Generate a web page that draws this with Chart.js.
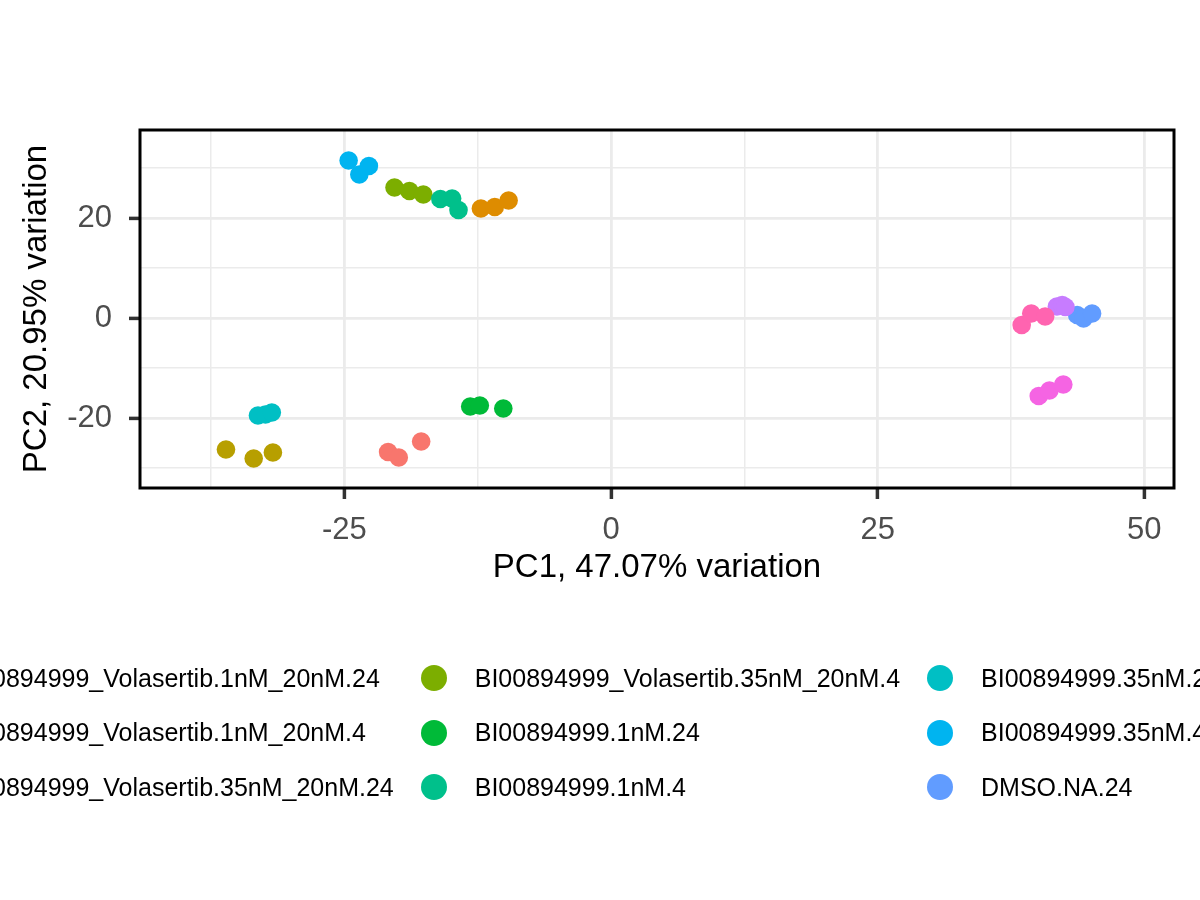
<!DOCTYPE html>
<html lang="en">

<head>
    <meta charset="utf-8">
    <title>PCA biplot</title>
    <script src="https://cdn.jsdelivr.net/npm/chart.js"></script>
    <style>
        html, body { margin: 0; padding: 0; background: #fff; overflow: hidden; width: 1200px; height: 900px; }
        #wrap { position: relative; width: 1200px; height: 900px; overflow: hidden; }
        #pca { position: absolute; left: 0; top: 0; }
        #legenda {
            position: absolute; top: 651px; left: -99.5px;
            display: flex; white-space: nowrap;
            font-family: "Liberation Sans", Arial, sans-serif; font-size: 25px; color: #000;
        }
        .col { display: flex; flex-direction: column; margin-right: 27px; }
        .item { display: flex; align-items: center; height: 54.5px; }
        .dot { width: 26px; height: 26px; border-radius: 50%; margin-right: 28px; flex: none; }
    </style>
</head>

<body>
    <div id="wrap">
        <canvas id="pca" width="1200" height="900"></canvas>
        <div id="legenda"></div>
    </div>

    <script>
        // grupos na ordem da legenda
        const grupos = [
            'BI00894999_Volasertib.1nM_20nM.24',
            'BI00894999_Volasertib.1nM_20nM.4',
            'BI00894999_Volasertib.35nM_20nM.24',
            'BI00894999_Volasertib.35nM_20nM.4',
            'BI00894999.1nM.24',
            'BI00894999.1nM.4',
            'BI00894999.35nM.24',
            'BI00894999.35nM.4',
            'DMSO.NA.24',
            'DMSO.NA.4',
            'Volasertib.20nM.24',
            'Volasertib.20nM.4'
        ];
        const cores = ['#F8766D', '#DE8C00', '#B79F00', '#7CAE00', '#00BA38', '#00C08B',
            '#00BFC4', '#00B4F0', '#619CFF', '#C77CFF', '#F564E3', '#FF64B0'];

        // PC1 / PC2 de cada replicata
        const pc1 = [
            [-20.9, -19.9, -17.8],
            [-12.2, -10.9, -9.6],
            [-36.1, -33.5, -31.7],
            [-20.3, -18.9, -17.6],
            [-13.2, -12.3, -10.1],
            [-16.0, -14.9, -14.3],
            [-33.1, -32.4, -31.8],
            [-24.6, -23.6, -22.7],
            [43.7, 44.3, 45.1],
            [41.8, 42.3, 42.6],
            [40.1, 41.1, 42.4],
            [38.5, 39.4, 40.7]
        ];
        const pc2 = [
            [-26.8, -27.9, -24.7],
            [21.9, 22.2, 23.5],
            [-26.3, -28.1, -26.9],
            [26.1, 25.4, 24.7],
            [-17.7, -17.5, -18.1],
            [23.8, 23.9, 21.6],
            [-19.5, -19.3, -18.9],
            [31.5, 28.7, 30.4],
            [0.6, -0.1, 0.9],
            [2.3, 2.6, 2.2],
            [-15.6, -14.5, -13.3],
            [-1.4, 0.9, 0.3]
        ];

        const ticksX = [-25, 0, 25, 50];
        const gradeX = [-37.5, -25, -12.5, 0, 12.5, 25, 37.5, 50];
        const ticksY = [-20, 0, 20];
        const gradeY = [-30, -20, -10, 0, 10, 20, 30];

        const fonte = '"Liberation Sans", Arial, sans-serif';

        const datasets = grupos.map((g, i) => ({
            label: g,
            data: pc1[i].map((x, j) => ({ x: x, y: pc2[i][j] })),
            backgroundColor: cores[i],
            borderWidth: 0,
            pointRadius: 9.3,
            pointHoverRadius: 9.3,
            order: -i
        }));

        const moldura = {
            id: 'moldura',
            afterDraw(chart) {
                const a = chart.chartArea;
                const ctx = chart.ctx;
                ctx.save();
                ctx.strokeStyle = '#000';
                ctx.lineWidth = 3;
                ctx.strokeRect(a.left, a.top, a.right - a.left, a.bottom - a.top);
                ctx.restore();
            }
        };

        function eixo(grade, principais, titulo, largura) {
            const ehPrincipal = v => principais.includes(v);
            return {
                type: 'linear',
                afterBuildTicks: s => { s.ticks = grade.map(v => ({ value: v })); },
                afterFit: largura,
                border: { display: false },
                grid: {
                    color: '#EBEBEB',
                    lineWidth: c => ehPrincipal(c.tick.value) ? 2.8 : 1.5,
                    drawTicks: true,
                    tickLength: 11,
                    tickWidth: 3.5,
                    tickColor: c => ehPrincipal(c.tick.value) ? '#333333' : 'rgba(0,0,0,0)'
                },
                ticks: {
                    autoSkip: false,
                    maxRotation: 0,
                    color: '#4D4D4D',
                    font: { family: fonte, size: 31 },
                    callback: v => ehPrincipal(v) ? String(v) : ''
                },
                title: {
                    display: true,
                    text: titulo,
                    color: '#000',
                    font: { family: fonte, size: 33 }
                }
            };
        }

        const escalaX = eixo(gradeX, ticksX, 'PC1, 47.07% variation', s => { s.height = 100; });
        escalaX.min = -44.16;
        escalaX.max = 52.78;
        escalaX.ticks.padding = 13;
        escalaX.title.padding = { top: 0, bottom: 0 };

        const escalaY = eixo(gradeY, ticksY, 'PC2, 20.95% variation', s => { s.width = 140; });
        escalaY.min = -34;
        escalaY.max = 37.6;
        escalaY.ticks.padding = 17;
        escalaY.title.padding = { top: 17, bottom: 0 };

        new Chart(document.getElementById('pca').getContext('2d'), {
            type: 'scatter',
            data: { datasets: datasets },
            options: {
                responsive: false,
                animation: false,
                layout: { padding: { left: 0, top: 130, right: 26, bottom: 312 } },
                plugins: { legend: { display: false }, tooltip: { enabled: false } },
                scales: { x: escalaX, y: escalaY }
            },
            plugins: [moldura]
        });

        // legenda em colunas (3 linhas), como no ggplot
        const legenda = document.getElementById('legenda');
        for (let c = 0; c < grupos.length; c += 3) {
            const col = document.createElement('div');
            col.className = 'col';
            for (let i = c; i < c + 3; i++) {
                const item = document.createElement('div');
                item.className = 'item';
                const dot = document.createElement('span');
                dot.className = 'dot';
                dot.style.background = cores[i];
                const txt = document.createElement('span');
                txt.textContent = grupos[i];
                item.appendChild(dot);
                item.appendChild(txt);
                col.appendChild(item);
            }
            legenda.appendChild(col);
        }
    </script>

</body>

</html>
